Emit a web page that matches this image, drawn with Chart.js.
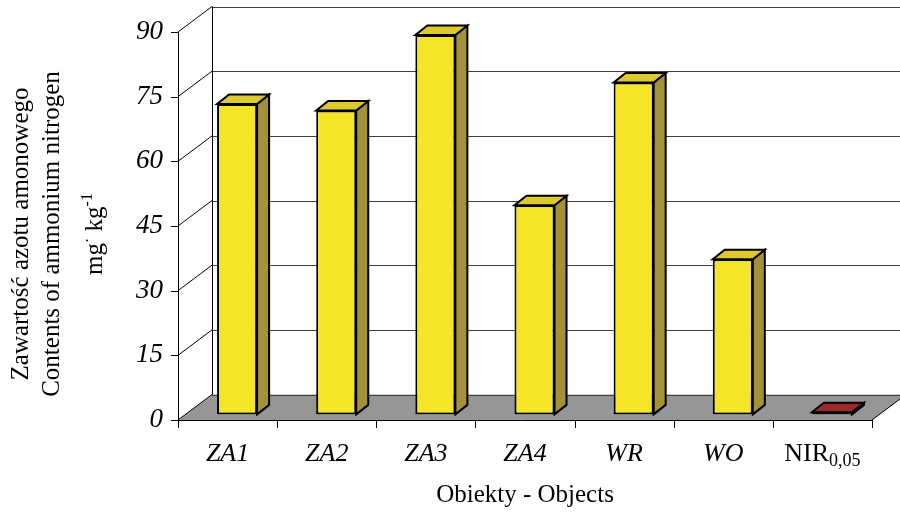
<!DOCTYPE html>
<html>
<head>
<meta charset="utf-8">
<script src="https://cdn.jsdelivr.net/npm/chart.js@4.4.1/dist/chart.umd.min.js"></script>
<style>
  html, body { margin: 0; padding: 0; background: #fff; }
  #wrap { width: 900px; height: 513px; }
</style>
</head>
<body>
<div id="wrap"><canvas id="c" width="900" height="513"></canvas></div>
<script>
// Objects and their ammonium nitrogen content (mg kg-1)
const categories = ['ZA1', 'ZA2', 'ZA3', 'ZA4', 'WR', 'WO', 'NIR'];
const categorySubscripts = ['', '', '', '', '', '', '0,05'];
const categoryItalic = [true, true, true, true, true, true, false];
const ammoniumN = [72, 70.5, 88, 48.5, 77, 36, 0.5];
const yTicks = [0, 15, 30, 45, 60, 75, 90];
const yTitleLines = ['Zawartość azotu amonowego', 'Contents of ammonium nitrogen'];
const xTitle = 'Obiekty - Objects';

// 3D projection offsets (px)
const WALL_DX = 34, WALL_DY = -25.5;         // depth of floor / side wall
const BAR_SHIFT_X = 9.5, BAR_SHIFT_Y = -5.6; // bars sit a little behind the front plane
const BAR_DX = 12, BAR_DY = -9.5;            // depth of each bar

const FRONT = ['#F6E428', '#F6E428', '#F6E428', '#F6E428', '#F6E428', '#F6E428', '#A02C2C'];
const TOP   = ['#DCC830', '#DCC830', '#DCC830', '#DCC830', '#DCC830', '#DCC830', '#9B2A2A'];
const SIDE  = ['#A39238', '#A39238', '#A39238', '#A39238', '#A39238', '#A39238', '#6A1C1C'];

const SERIF = '"Liberation Serif", "Times New Roman", serif';

function seg(ctx, x1, y1, x2, y2) {
  ctx.beginPath(); ctx.moveTo(x1, y1); ctx.lineTo(x2, y2); ctx.stroke();
}
function poly(ctx, pts, fill) {
  ctx.beginPath();
  ctx.moveTo(pts[0][0], pts[0][1]);
  for (let i = 1; i < pts.length; i++) ctx.lineTo(pts[i][0], pts[i][1]);
  ctx.closePath();
  ctx.fillStyle = fill; ctx.fill();
  ctx.stroke();
}

const scene3d = {
  id: 'scene3d',
  beforeDraw(chart) {
    const { ctx, chartArea: a, scales: { y } } = chart;
    const n = categories.length;
    const cw = (a.right - a.left) / n;
    ctx.save();
    ctx.fillStyle = '#fff';
    ctx.fillRect(0, 0, chart.width, chart.height);

    // floor
    ctx.beginPath();
    ctx.moveTo(a.left, a.bottom);
    ctx.lineTo(a.right, a.bottom);
    ctx.lineTo(a.right + WALL_DX, a.bottom + WALL_DY);
    ctx.lineTo(a.left + WALL_DX, a.bottom + WALL_DY);
    ctx.closePath();
    ctx.fillStyle = '#969696';
    ctx.fill();

    // back wall gridlines
    ctx.lineWidth = 1.2;
    ctx.strokeStyle = '#404040';
    yTicks.forEach(v => {
      const py = Math.round(y.getPixelForValue(v) + WALL_DY) + 0.5;
      seg(ctx, a.left + WALL_DX, py, chart.width + 60, py);
    });

    // side wall diagonals and front ticks
    ctx.lineWidth = 1;
    ctx.strokeStyle = '#000';
    yTicks.forEach(v => {
      const py = y.getPixelForValue(v);
      seg(ctx, a.left, py, a.left + WALL_DX, py + WALL_DY);
      seg(ctx, a.left - 7, Math.round(py) + 0.5, a.left, Math.round(py) + 0.5);
    });
    // back wall left edge
    const bx = Math.round(a.left + WALL_DX) + 0.5;
    seg(ctx, bx, y.getPixelForValue(90) + WALL_DY, bx, a.bottom + WALL_DY);

    // floor outline: front and right edges
    const fy = Math.round(a.bottom) + 0.5;
    seg(ctx, a.left - 7, fy, a.right, fy);
    seg(ctx, a.right, a.bottom, a.right + WALL_DX, a.bottom + WALL_DY);

    // front value axis
    const ax = Math.round(a.left) + 0.5;
    seg(ctx, ax, y.getPixelForValue(90), ax, a.bottom + 5);

    // category tick marks below the floor
    for (let i = 0; i <= n; i++) {
      const tx = Math.round(a.left + i * cw) + 0.5;
      seg(ctx, tx, a.bottom, tx, a.bottom + 8);
    }
    ctx.restore();
  },
  beforeDatasetsDraw(chart) {
    chart.ctx.save();
    chart.ctx.translate(BAR_SHIFT_X, BAR_SHIFT_Y);
  },
  afterDatasetsDraw(chart) {
    const ctx = chart.ctx;
    const meta = chart.getDatasetMeta(0);
    ctx.lineWidth = 2;
    ctx.lineJoin = 'miter';
    ctx.strokeStyle = '#000';
    meta.data.forEach((bar, i) => {
      const { x, y, base, width } = bar.getProps(['x', 'y', 'base', 'width'], true);
      const L = x - width / 2, R = x + width / 2;
      const T = Math.min(y, base), B = Math.max(y, base);
      poly(ctx, [[R, T], [R + BAR_DX, T + BAR_DY], [R + BAR_DX, B + BAR_DY], [R, B]], SIDE[i]);
      poly(ctx, [[L, T], [R, T], [R + BAR_DX, T + BAR_DY], [L + BAR_DX, T + BAR_DY]], TOP[i]);
    });
    ctx.restore();
  },
  afterDraw(chart) {
    const { ctx, chartArea: a, scales: { x } } = chart;
    ctx.save();
    ctx.fillStyle = '#000';
    ctx.textBaseline = 'alphabetic';

    // category labels
    categories.forEach((c, i) => {
      const cx = x.getPixelForValue(i);
      const mainFont = (categoryItalic[i] ? 'italic ' : '') + '26px ' + SERIF;
      const subFont = '18px ' + SERIF;
      ctx.font = mainFont;
      const w1 = ctx.measureText(c).width;
      ctx.font = subFont;
      const w2 = categorySubscripts[i] ? ctx.measureText(categorySubscripts[i]).width : 0;
      const sx = cx - (w1 + w2) / 2;
      ctx.textAlign = 'left';
      ctx.font = mainFont;
      ctx.fillText(c, sx, 461);
      if (w2) {
        ctx.font = subFont;
        ctx.fillText(categorySubscripts[i], sx + w1, 466);
      }
    });

    // x axis title
    ctx.font = '25px ' + SERIF;
    ctx.textAlign = 'center';
    ctx.fillText(xTitle, (a.left + a.right) / 2, 502);

    // y axis title (rotated)
    const cy = 234;
    const baselines = [28, 59];
    yTitleLines.forEach((t, i) => {
      ctx.save();
      ctx.translate(baselines[i], cy);
      ctx.rotate(-Math.PI / 2);
      ctx.font = '25px ' + SERIF;
      ctx.textAlign = 'center';
      ctx.fillText(t, 0, 0);
      ctx.restore();
    });
    // unit line: mg·kg^-1
    ctx.save();
    ctx.translate(102, cy);
    ctx.rotate(-Math.PI / 2);
    const big = '25px ' + SERIF, small = '16px ' + SERIF;
    const parts = [['mg', big, 0], ['·', small, -9], [' kg', big, 0], ['-1', small, -10]];
    let total = 0;
    parts.forEach(p => { ctx.font = p[1]; total += ctx.measureText(p[0]).width; });
    let px = -total / 2;
    ctx.textAlign = 'left';
    parts.forEach(p => {
      ctx.font = p[1];
      ctx.fillText(p[0], px, p[2]);
      px += ctx.measureText(p[0]).width;
    });
    ctx.restore();

    ctx.restore();
  }
};

new Chart(document.getElementById('c'), {
  type: 'bar',
  data: {
    labels: categories.map((c, i) => c + categorySubscripts[i]),
    datasets: [{
      data: ammoniumN,
      backgroundColor: FRONT,
      borderColor: '#000',
      borderWidth: 2,
      borderSkipped: false,
      categoryPercentage: 1,
      barPercentage: 0.404
    }]
  },
  options: {
    responsive: false,
    animation: false,
    events: [],
    layout: { padding: { top: 32, right: 28, left: 0, bottom: 0 } },
    plugins: { legend: { display: false }, tooltip: { enabled: false }, title: { display: false } },
    scales: {
      x: {
        grid: { display: false, drawTicks: false },
        border: { display: false },
        ticks: { display: false },
        afterFit(s) { s.height = 93; }
      },
      y: {
        min: 0, max: 90,
        afterBuildTicks(s) { s.ticks = yTicks.map(v => ({ value: v })); },
        grid: { display: false, drawTicks: false },
        border: { display: false },
        ticks: {
          padding: 15,
          color: '#000',
          font: { family: SERIF, size: 27, style: 'italic' }
        },
        afterFit(s) { s.width = 178; }
      }
    }
  },
  plugins: [scene3d]
});
</script>
</body>
</html>
